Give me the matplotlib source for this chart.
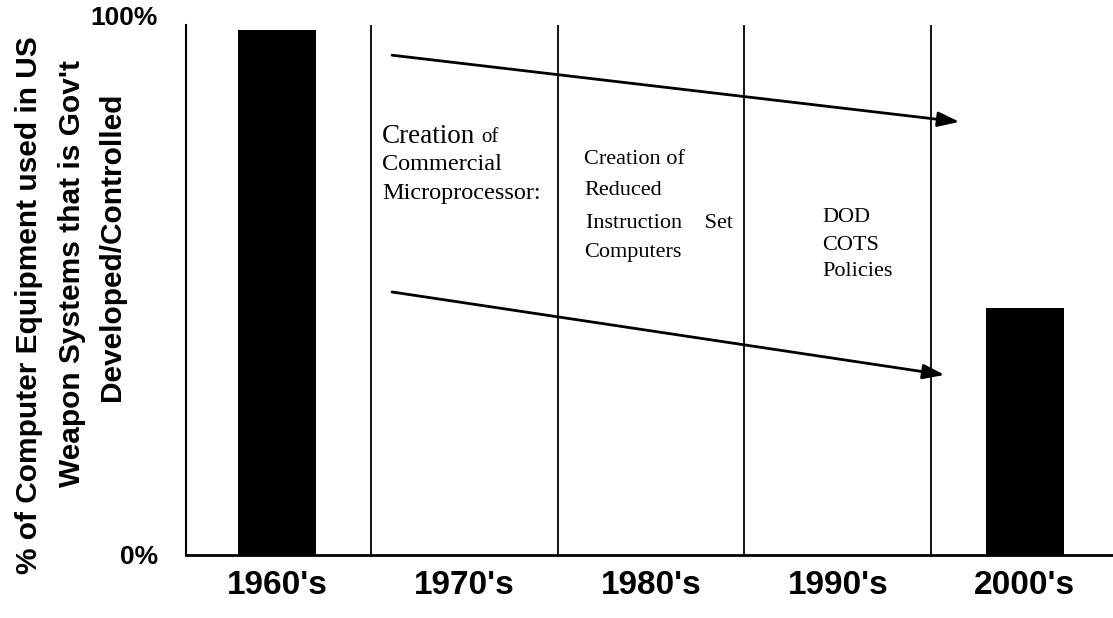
import matplotlib
matplotlib.use("Agg")
import matplotlib.pyplot as plt

categories = ["1960's", "1970's", "1980's", "1990's", "2000's"]
values = [100, 0, 0, 0, 47]          # % gov't developed/controlled
dividers = [0.5, 1.5, 2.5, 3.5]
ytick_vals = [0, 100]
ytick_labels = ["0%", "100%"]
ylabel_lines = ["% of Computer Equipment used in US",
                "Weapon Systems that is Gov't",
                "Developed/Controlled"]
arrow_upper = [(0.615, 95.2), (3.65, 82.5)]
arrow_lower = [(0.615, 50.1), (3.57, 34.3)]

W, H = 1113, 618
fig = plt.figure(figsize=(W / 100, H / 100), dpi=100)
ax = fig.add_axes([186 / W, 1 - 555 / H, 1 - 186 / W, (555 - 25) / H])

x = list(range(len(categories)))
ax.bar(x, values, width=0.42, color="black")
for d in dividers:
    ax.axvline(d, color="black", lw=1.3)

ax.set_xlim(-0.487, 4.471)
ax.set_ylim(0, 100.95)
ax.spines[["top", "right"]].set_visible(False)
ax.spines["left"].set_linewidth(1.5)
ax.spines["bottom"].set_linewidth(2)

ax.set_xticks(x)
ax.set_xticklabels(categories, fontsize=24, fontweight="bold", family="Liberation Sans")
ax.set_yticks(ytick_vals)
ax.set_yticklabels(ytick_labels, fontsize=19, fontweight="bold", family="Liberation Sans")
ax.tick_params(axis="x", length=0, pad=11)
ax.tick_params(axis="y", length=0, pad=20)
for lbl in ax.get_yticklabels():
    if lbl.get_text() == "100%":
        lbl.set_va("bottom")

for (x0, y0), (x1, y1) in [arrow_upper, arrow_lower]:
    ax.annotate("", xy=(x1, y1), xytext=(x0, y0),
                arrowprops=dict(arrowstyle="-|>,head_length=1.3,head_width=0.45",
                                color="black", lw=2, shrinkA=0, shrinkB=0))

# y label lines
ylab_pos = [(29, 305), (72, 274), (112, 247)]
for txt, (px, py) in zip(ylabel_lines, ylab_pos):
    fig.text(px / W, 1 - py / H, txt, rotation=90, ha="center", va="center",
             fontsize=21.5, fontweight="bold", family="Liberation Sans")

serif = "Liberation Serif"
def ftxt(px, py, s, size):
    fig.text(px / W, 1 - py / H, s, ha="left", va="center", fontsize=size, family=serif)

ftxt(382, 136, "Creation", 19.5)
ftxt(481, 138, "of", 15)
ftxt(382, 165, "Commercial", 17.5)
ftxt(382, 193, "Microprocessor:", 17.5)

ftxt(584, 160, "Creation of", 16)
ftxt(584, 191, "Reduced", 16)
ftxt(586, 223, "Instruction    Set", 16)
ftxt(584, 253, "Computers", 16)

ftxt(822, 217, "DOD", 16)
ftxt(822, 245, "COTS", 16)
ftxt(822, 272, "Policies", 16)

fig.savefig("out.png", dpi=100)
